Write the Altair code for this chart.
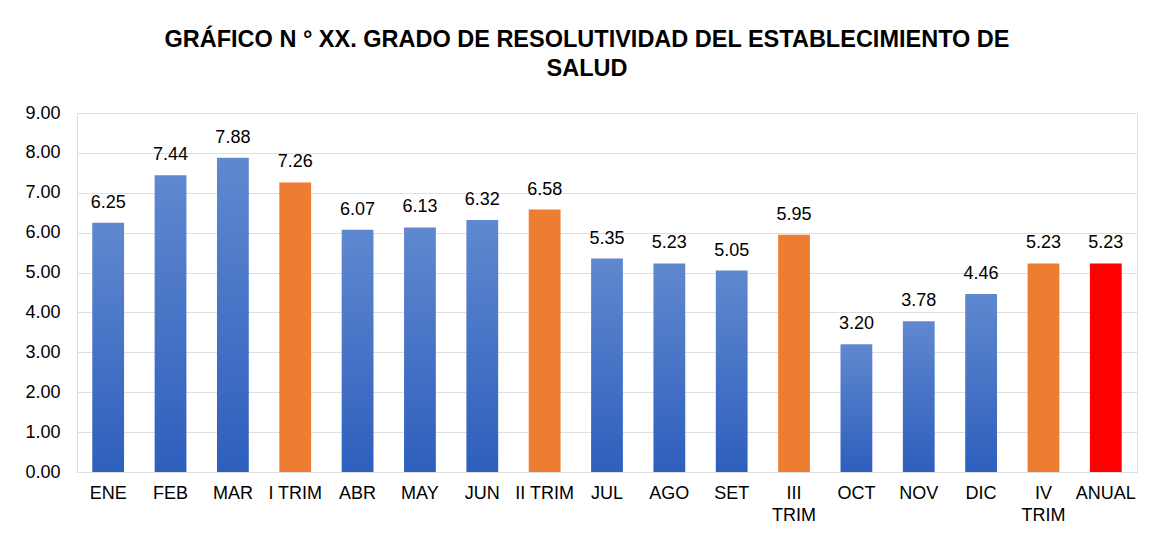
import altair as alt
import pandas as pd

categories = ["ENE", "FEB", "MAR", "I TRIM", "ABR", "MAY", "JUN", "II TRIM",
              "JUL", "AGO", "SET", "III TRIM", "OCT", "NOV", "DIC", "IV TRIM", "ANUAL"]
values = [6.25, 7.44, 7.88, 7.26, 6.07, 6.13, 6.32, 6.58,
          5.35, 5.23, 5.05, 5.95, 3.20, 3.78, 4.46, 5.23, 5.23]
kinds = ["mes", "mes", "mes", "trim", "mes", "mes", "mes", "trim",
         "mes", "mes", "mes", "trim", "mes", "mes", "mes", "trim", "anual"]
y_ticks = [0, 1, 2, 3, 4, 5, 6, 7, 8, 9]
title_lines = ["GRÁFICO N ° XX. GRADO DE RESOLUTIVIDAD DEL ESTABLECIMIENTO DE", "SALUD"]

df = pd.DataFrame({"cat": categories, "valor": values, "tipo": kinds})

FONT = "Liberation Sans"
GRID = "#DCDFE4"

x_enc = alt.X(
    "cat:N", sort=categories, title=None,
    scale=alt.Scale(paddingInner=0.49, paddingOuter=0.245),
    axis=alt.Axis(
        labelAngle=0, ticks=False, domainColor=GRID, domainWidth=1,
        labelFont=FONT, labelFontSize=18, labelColor="#000000", labelPadding=12,
        labelLineHeight=22, labelLimit=200,
        labelExpr="(datum.label == 'III TRIM' || datum.label == 'IV TRIM') ? split(datum.label, ' ') : datum.label",
    ),
)
y_enc = alt.Y(
    "valor:Q", title=None,
    scale=alt.Scale(domain=[0, 9], nice=False),
    axis=alt.Axis(
        values=y_ticks, format=".2f", grid=True, gridColor=GRID, gridWidth=1,
        domain=False, ticks=False, labelFont=FONT, labelFontSize=18,
        labelColor="#000000", labelPadding=17,
    ),
)

base = alt.Chart(df)

months = base.transform_filter("datum.tipo == 'mes'").mark_bar(
    color=alt.Gradient(
        gradient="linear", x1=0, x2=0, y1=0, y2=1,
        stops=[alt.GradientStop(color="#6088CF", offset=0),
               alt.GradientStop(color="#2E5FBD", offset=1)],
    )
).encode(x=x_enc, y=y_enc)

others = base.transform_filter("datum.tipo != 'mes'").mark_bar().encode(
    x=x_enc, y=y_enc,
    color=alt.Color("tipo:N", scale=alt.Scale(domain=["trim", "anual"],
                                               range=["#ED7D31", "#FF0000"]),
                    legend=None),
)

labels = base.mark_text(
    baseline="alphabetic", dy=-15, font=FONT, fontSize=18, color="#000000"
).encode(x=x_enc, y=y_enc, text=alt.Text("valor:Q", format=".2f"))

chart = alt.layer(months, others, labels).properties(
    width=1060, height=359,
    title=alt.TitleParams(
        text=title_lines, font=FONT, fontSize=23.5, fontWeight="bold",
        color="#000000", anchor="middle", dx=-20, offset=24, lineHeight=29,
    ),
    autosize=alt.AutoSizeParams(type="none"),
    padding={"left": 69, "top": 105, "right": 13, "bottom": 54},
).configure_view(stroke=None).configure(background="#FFFFFF")

chart.save("out.html", embed_options={"renderer": "svg", "actions": False})
